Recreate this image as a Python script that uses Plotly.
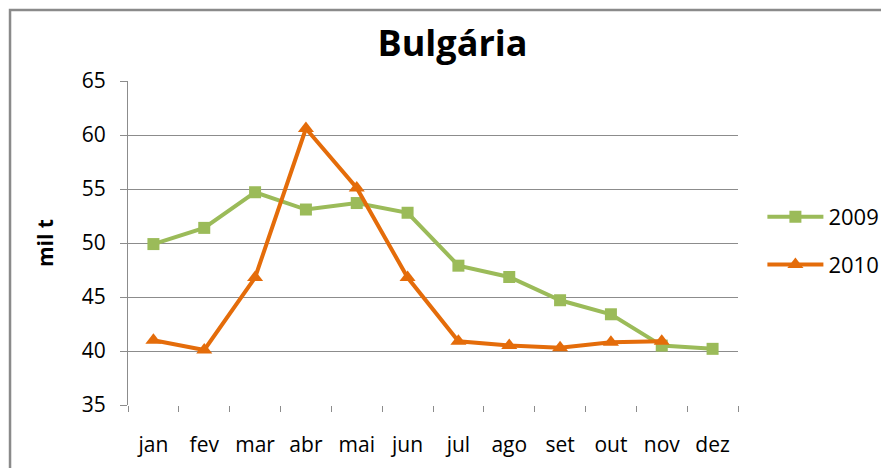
import plotly.graph_objects as go

months = ['jan', 'fev', 'mar', 'abr', 'mai', 'jun', 'jul', 'ago', 'set', 'out', 'nov', 'dez']
values_2009 = [49.9, 51.4, 54.7, 53.1, 53.7, 52.8, 47.9, 46.85, 44.7, 43.4, 40.5, 40.2]
values_2010 = [41.0, 40.1, 46.8, 60.6, 55.1, 46.8, 40.9, 40.5, 40.3, 40.8, 40.9, None]

GREEN = '#9BBB59'
ORANGE = '#E46C0A'
GRID = '#8C8C8C'
FONT = 'Open Sans'

fig = go.Figure()

fig.add_trace(go.Scatter(
    x=months, y=values_2009, mode='lines+markers', name='2009',
    legendgroup='a',
    line=dict(color=GREEN, width=4),
    marker=dict(symbol='square', size=12, color=GREEN)
))
fig.add_trace(go.Scatter(
    x=months, y=values_2010, mode='lines+markers', name='2010',
    legendgroup='b',
    line=dict(color=ORANGE, width=4),
    marker=dict(symbol='triangle-up', size=14, color=ORANGE)
))

# outer chart border (left/top visible, right/bottom cut off)
fig.add_shape(type='rect', xref='paper', yref='paper',
              x0=-0.1934, x1=1.3, y0=-0.3, y1=1.219,
              line=dict(color='#8A8A8A', width=2.5), layer='below')

fig.add_annotation(text='<b>mil t</b>', xref='paper', yref='paper',
                   x=-0.136, y=0.5, xanchor='center', yanchor='middle',
                   textangle=-90, showarrow=False,
                   font=dict(family=FONT, size=21, color='black'))

# page body has an 8px offset, so margins are shifted to compensate
fig.update_layout(
    width=889, height=468,
    margin=dict(l=120, r=159, t=73, b=71),
    paper_bgcolor='white', plot_bgcolor='white',
    title=dict(text='<b>Bulgária</b>', x=0.5, xanchor='center', y=0.925, yanchor='middle',
               font=dict(family=FONT, size=36, color='black')),
    font=dict(family=FONT, size=20, color='black'),
    showlegend=True,
    legend=dict(x=1.04, y=0.506, xanchor='left', yanchor='middle',
                itemwidth=56, tracegroupgap=16, font=dict(family=FONT, size=22),
                bgcolor='rgba(0,0,0,0)'),
    xaxis=dict(
        range=[-0.5, 11.5], showgrid=False, showline=False,
        ticks='outside', tickson='boundaries', ticklen=6, tickcolor=GRID,
        ticklabelstandoff=25,
        tickfont=dict(family=FONT, size=21), zeroline=False
    ),
    yaxis=dict(
        range=[35, 65], dtick=5, showgrid=True, gridcolor=GRID, gridwidth=1,
        showline=True, linecolor=GRID, linewidth=1,
        ticks='outside', ticklen=7, tickcolor=GRID,
        ticklabelstandoff=10,
        tickfont=dict(family=FONT, size=21), zeroline=False
    ),
)

fig.write_html('out.html')
